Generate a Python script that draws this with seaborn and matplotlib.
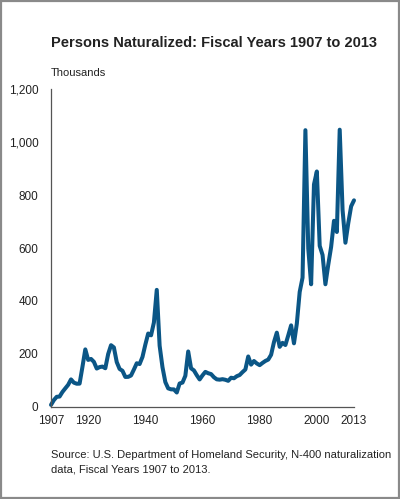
import numpy as np
import pandas as pd
import seaborn as sns
import matplotlib.pyplot as plt
from matplotlib.patches import Rectangle

# === DATA (thousands of persons naturalized, fiscal years) ===
years = list(range(1907, 2014))
naturalized = [
    7.9, 26.0, 38.4, 39.4, 56.7, 70.3, 83.6, 104.1, 91.8, 87.8,
    88.1, 151.4, 217.4, 177.7, 181.3, 170.4, 145.1, 150.5, 152.5, 146.2,
    199.8, 233.2, 224.7, 169.4, 143.5, 136.6, 113.4, 113.7, 118.9, 141.3,
    165.0, 162.1, 188.8, 235.3, 277.3, 270.4, 318.9, 442.0, 231.4, 150.1,
    93.9, 70.2, 66.6, 66.3, 54.7, 88.7, 92.1, 117.8, 209.5, 145.9,
    138.0, 119.9, 103.9, 119.4, 132.5, 127.3, 124.2, 112.2, 104.3, 103.1,
    104.9, 102.7, 98.7, 110.4, 108.4, 116.2, 120.7, 131.7, 141.5, 190.7,
    159.9, 173.5, 164.2, 157.9, 166.3, 173.7, 178.9, 197.0, 244.7, 280.6,
    227.0, 242.1, 233.8, 270.1, 308.1, 240.3, 314.7, 434.1, 488.1, 1044.7,
    598.2, 463.1, 839.9, 888.8, 608.2, 573.7, 463.2, 537.2, 604.3, 702.6,
    660.5, 1046.5, 743.7, 619.9, 694.2, 757.4, 779.9,
]
y_ticks = [0, 200, 400, 600, 800, 1000, 1200]
x_ticks = [1907, 1920, 1930, 1940, 1950, 1960, 1970, 1980, 1990, 2000, 2013]
x_labels = ["1907", "1920", "", "1940", "", "1960", "", "1980", "", "2000", "2013"]

title = "Persons Naturalized: Fiscal Years 1907 to 2013"
unit = "Thousands"
source = ("Source: U.S. Department of Homeland Security, N-400 naturalization\n"
          "data, Fiscal Years 1907 to 2013.")

df = pd.DataFrame({"year": years, "value": naturalized})

sns.set_style("white")
plt.rcParams["font.family"] = ["Liberation Sans", "DejaVu Sans"]
text_col = "#222222"

fig = plt.figure(figsize=(4.0, 4.99), dpi=100)
ax = fig.add_axes([0.1275, 0.1844, 0.7575, 0.6372])

sns.lineplot(data=df, x="year", y="value", ax=ax, color="#0b5686",
             linewidth=2.9, clip_on=False)

ax.set_xlim(1907, 2013)
ax.set_ylim(0, 1200)
ax.set_xticks(x_ticks)
ax.set_xticklabels(x_labels)
ax.set_yticks(y_ticks)
ax.set_yticklabels([f"{v:,}" for v in y_ticks])
ax.set_xlabel("")
ax.set_ylabel("")

for side in ["top", "right"]:
    ax.spines[side].set_visible(False)
for side in ["left", "bottom"]:
    ax.spines[side].set_color("#555555")
    ax.spines[side].set_linewidth(0.9)
ax.tick_params(axis="both", direction="out", length=4, width=0.9,
               color="#555555", labelsize=8.5, labelcolor=text_col, pad=2)
ax.tick_params(axis="y", length=5, pad=4)

fig.text(0.1275, 0.906, title, fontsize=10.5, fontweight="bold", color=text_col)
fig.text(0.1275, 0.848, unit, fontsize=8, color=text_col)
fig.text(0.1275, 0.054, source, fontsize=8, color=text_col, linespacing=1.45)

fig.patches.append(Rectangle((0.002, 0.002), 0.996, 0.996, transform=fig.transFigure,
                             fill=False, edgecolor="#8a8a8a", linewidth=1.6))

fig.savefig("out.png", dpi=100)
plt.close(fig)
